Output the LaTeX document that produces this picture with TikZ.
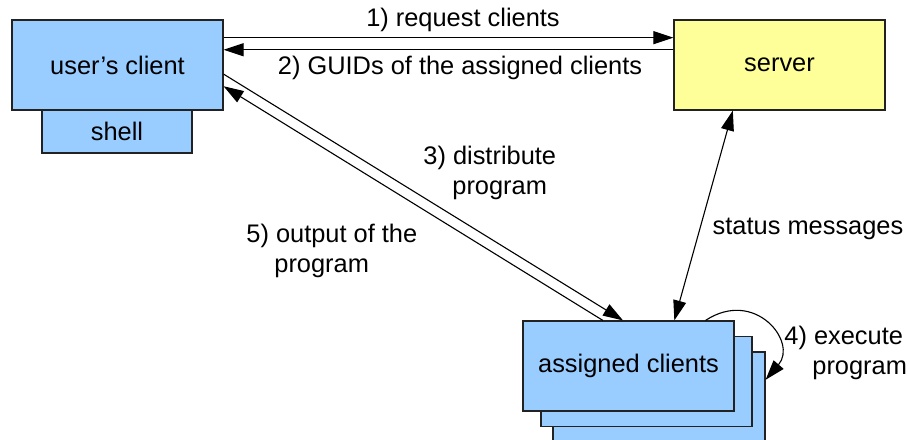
\documentclass[tikz,border=0pt]{standalone}
\usepackage{fontspec}
\setmainfont{Liberation Sans}
\usetikzlibrary{arrows.meta,calc}
\definecolor{boxblue}{HTML}{99CCFF}
\definecolor{boxyellow}{HTML}{FFFF99}
\definecolor{boxline}{HTML}{222222}
\begin{document}
\begin{tikzpicture}[x=0.5pt,y=-0.5pt,
  every node/.style={font=\fontsize{12.7}{15}\selectfont},
  box/.style={draw=boxline,line width=0.6pt,minimum width=105.5pt,minimum height=45pt,inner sep=0pt},
  bluebox/.style={box,fill=boxblue},
  yellowbox/.style={box,fill=boxyellow},
  conn/.style={line width=0.55pt,-{Triangle[length=10pt,width=6.5pt]}},
  dconn/.style={line width=0.55pt,{Triangle[length=10pt,width=6.5pt]}-{Triangle[length=10pt,width=6.5pt]}},
  lbl/.style={align=center,inner sep=0pt},
  hlbl/.style={align=left,inner sep=0pt,anchor=west}]
\useasboundingbox (0,0) rectangle (910,439);
% boxes
\node[bluebox] (uc) at (117.5,65) {user’s client};
\node[bluebox,minimum width=75pt,minimum height=21.5pt] (shell) at (117,131.5) {shell};
\node[yellowbox] (server) at (779.5,65) {server};
\node[bluebox,minimum width=106pt] (ac3) at (659,397) {};
\node[bluebox] (ac2) at (646.5,381.5) {};
\node[bluebox] (ac1) at (628.5,366) {assigned clients};
% connection points
\coordinate (ucA) at ($(uc.north east)!0.2!(uc.south east)$);
\coordinate (ucB) at ($(uc.north east)!0.333!(uc.south east)$);
\coordinate (ucC) at ($(uc.north east)!0.6!(uc.south east)$);
\coordinate (ucD) at ($(uc.north east)!0.733!(uc.south east)$);
\coordinate (svA) at ($(server.north west)!0.2!(server.south west)$);
\coordinate (svB) at ($(server.north west)!0.333!(server.south west)$);
\coordinate (svS) at ($(server.south west)!0.28!(server.south east)$);
\coordinate (acC) at ($(ac1.north west)!0.474!(ac1.north east)$);
\coordinate (acD) at ($(ac1.north west)!0.379!(ac1.north east)$);
\coordinate (acS) at ($(ac1.north west)!0.716!(ac1.north east)$);
\coordinate (acL) at ($(ac1.north west)!0.863!(ac1.north east)$);
\coordinate (ac3R) at ($(ac3.north east)!0.311!(ac3.south east)$);
% connectors
\draw[conn] (ucA) -- (svA);
\draw[conn] (svB) -- (ucB);
\draw[conn] (ucC) -- (acC);
\draw[conn] (acD) -- (ucD);
\draw[dconn] (svS) -- (acS);
\draw[conn] (acL) .. controls (755,288) and (798,342) .. (ac3R);
% labels
\node[lbl] (l1) at (463,20) {1) request clients};
\node[lbl] (l2) at (460,68) {2) GUIDs of the assigned clients};
\node[hlbl] (l3) at (423,173) {3) distribute\\\hspace*{14.5pt}program};
\node[hlbl] (l5) at (246,251) {5) output of the\\\hspace*{14pt}program};
\node[lbl] (ls) at (808,229) {status messages};
\node[hlbl] (l4) at (784,353) {4) execute\\\hspace*{14pt}program};
\end{tikzpicture}
\end{document}
